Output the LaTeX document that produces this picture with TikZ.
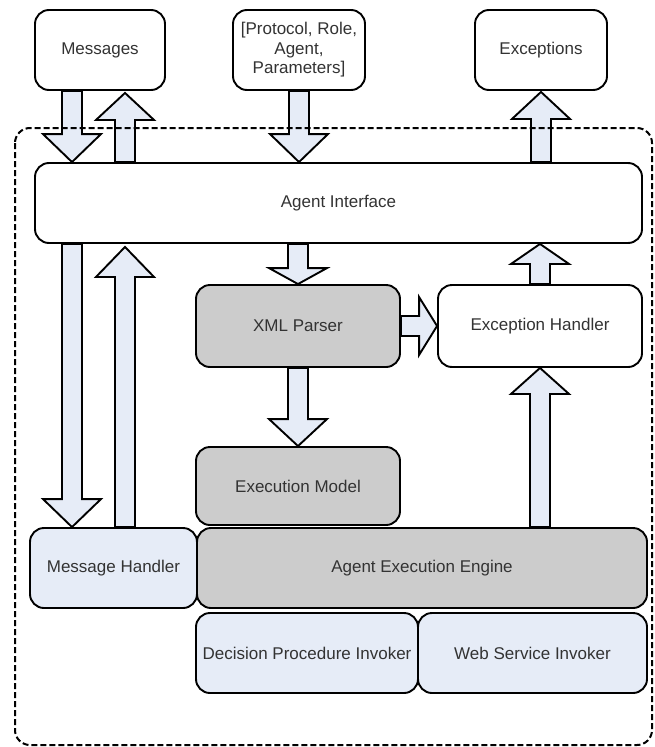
\documentclass[tikz,border=0pt]{standalone}
\usepackage{fontspec}
\setmainfont{Liberation Sans}
\usepackage{xcolor}
\usepackage{tikz}
\usetikzlibrary{calc, positioning}

\definecolor{boxblue}{HTML}{E6ECF7}
\definecolor{boxgray}{HTML}{CCCCCC}
\definecolor{txtgray}{HTML}{333333}

% freccia piena da #2 a #3, #1 = lunghezza della punta
\newcommand{\fatarrow}[3][27pt]{%
  \coordinate (fa-b) at ($(#3)!#1!(#2)$);
  \filldraw[blockarr] ($(#2)!10pt!90:(#3)$) -- ($(fa-b)!10pt!90:(#3)$)
    -- ($(fa-b)!29pt!90:(#3)$) -- (#3) -- ($(fa-b)!29pt!-90:(#3)$)
    -- ($(fa-b)!10pt!-90:(#3)$) -- ($(#2)!10pt!-90:(#3)$) -- cycle;
}

\begin{document}
\begin{tikzpicture}[x=1pt, y=-1pt,
    box/.style={draw, line width=1.9pt, rounded corners=14pt, fill=white,
      minimum height=80pt, inner sep=0pt, align=center, text=txtgray,
      font=\fontsize{17}{19.5}\selectfont},
    bluebox/.style={box, fill=boxblue},
    graybox/.style={box, fill=boxgray},
    blockarr/.style={line width=1.9pt, fill=boxblue, draw=black, line join=miter},
    frame/.style={line width=2pt, dash pattern=on 6pt off 3pt, rounded corners=15pt}]
    \useasboundingbox (0,0) rectangle (655,747);

    % Ingressi e uscite
    \node[box, minimum width=130pt] (msg) at (100,50) {Messages};
    \node[box, minimum width=132pt] (proto) at (299,50) {[Protocol, Role,\\ Agent,\\ Parameters]};
    \node[box, minimum width=132pt] (exc) at (541,50) {Exceptions};

    % Blocchi interni
    \node[box, minimum width=607pt] (ai) at (338.5,203) {Agent Interface};
    \node[graybox, minimum width=204pt, minimum height=82pt] (xml) at (298,326) {XML Parser};
    \node[box, minimum width=204pt, minimum height=82pt] (eh) at (540,326) {Exception Handler};
    \node[graybox, minimum width=204pt, minimum height=78pt] (em) at (298,486) {Execution Model};
    \node[bluebox, minimum width=167pt] (mh) at (113.5,568) {Message Handler};
    \node[graybox, minimum width=450pt] (aee) at (422,568) {Agent Execution Engine};
    \node[bluebox, minimum width=222pt] (dpi) at (307,653) {Decision Procedure Invoker};
    \node[bluebox, minimum width=229pt] (wsi) at (532.5,653) {Web Service Invoker};

    % Estremi delle frecce
    \coordinate (msgOut) at ([xshift=-28pt]msg.south);
    \coordinate (msgIn) at ([xshift=25pt, yshift=-2pt]msg.south);
    \coordinate (aiIn) at (msgOut |- ai.north);
    \coordinate (aiOut) at (msgIn |- ai.north);
    \coordinate (aiProto) at (proto.south |- ai.north);
    \coordinate (aiExc) at (exc.south |- ai.north);
    \coordinate (excIn) at ([yshift=-1pt]exc.south);
    \coordinate (aiMsgOut) at (msgOut |- ai.south);
    \coordinate (aiMsgIn) at ([yshift=-3pt]msgIn |- ai.south);
    \coordinate (mhIn) at (msgOut |- mh.north);
    \coordinate (mhOut) at (msgIn |- mh.north);
    \coordinate (aiXml) at (xml.north |- ai.south);
    \coordinate (aiEh) at (eh.north |- ai.south);

    % Frecce
    \fatarrow[28pt]{msgOut}{aiIn}
    \fatarrow{aiOut}{msgIn}
    \fatarrow[28pt]{proto.south}{aiProto}
    \fatarrow{aiExc}{excIn}
    \fatarrow[28pt]{aiMsgOut}{mhIn}
    \fatarrow[30pt]{mhOut}{aiMsgIn}
    \fatarrow[16pt]{aiXml}{xml.north}
    \fatarrow[18pt]{xml.east}{eh.west}
    \fatarrow[20pt]{eh.north}{aiEh}
    \fatarrow{xml.south}{em.north}
    \fatarrow[26pt]{eh.south |- aee.north}{eh.south}

    % Confine tratteggiato
    \draw[frame] (15,128) rectangle (652,745);
\end{tikzpicture}
\end{document}
